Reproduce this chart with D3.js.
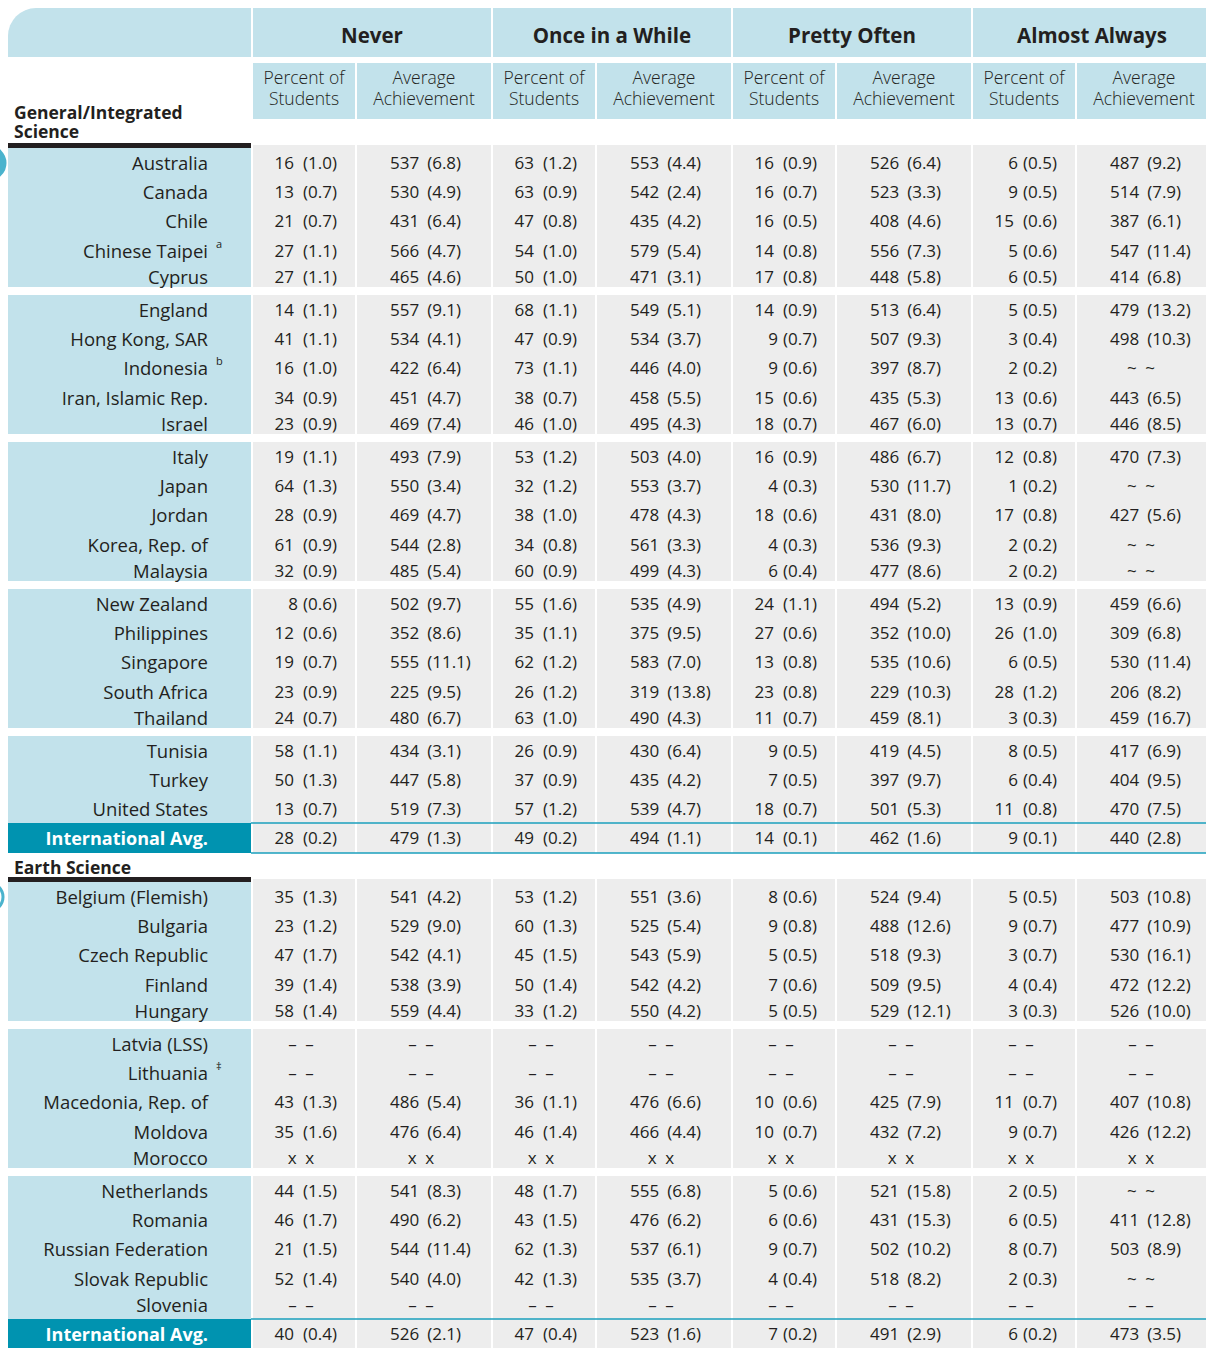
<!DOCTYPE html>
<html>
<head>
<meta charset="utf-8">
<script src="https://cdn.jsdelivr.net/npm/d3@7"></script>
<style>
  body { margin: 0; background: #fff; }
  svg text { font-family: "Open Sans", sans-serif; fill: #231f20; }
</style>
</head>
<body>
<div id="table"></div>
<script>

// column groups and sub headings
const groups = ['Never', 'Once in a While', 'Pretty Often', 'Almost Always'];
const subHeads = [['Percent of', 'Students'], ['Average', 'Achievement']];

// General/Integrated Science
const genCountries = ['Australia', 'Canada', 'Chile', 'Chinese Taipei', 'Cyprus',
    'England', 'Hong Kong, SAR', 'Indonesia', 'Iran, Islamic Rep.', 'Israel',
    'Italy', 'Japan', 'Jordan', 'Korea, Rep. of', 'Malaysia',
    'New Zealand', 'Philippines', 'Singapore', 'South Africa', 'Thailand',
    'Tunisia', 'Turkey', 'United States'];
const genNotes = ['', '', '', 'a', '', '', '', 'b', '', '', '', '', '', '', '', '', '', '', '', '', '', '', ''];
const genBlocks = [5, 5, 5, 5, 3];
const genValues = [
    ['16 (1.0)', '537 (6.8)', '63 (1.2)', '553 (4.4)', '16 (0.9)', '526 (6.4)', '6 (0.5)', '487 (9.2)'],
    ['13 (0.7)', '530 (4.9)', '63 (0.9)', '542 (2.4)', '16 (0.7)', '523 (3.3)', '9 (0.5)', '514 (7.9)'],
    ['21 (0.7)', '431 (6.4)', '47 (0.8)', '435 (4.2)', '16 (0.5)', '408 (4.6)', '15 (0.6)', '387 (6.1)'],
    ['27 (1.1)', '566 (4.7)', '54 (1.0)', '579 (5.4)', '14 (0.8)', '556 (7.3)', '5 (0.6)', '547 (11.4)'],
    ['27 (1.1)', '465 (4.6)', '50 (1.0)', '471 (3.1)', '17 (0.8)', '448 (5.8)', '6 (0.5)', '414 (6.8)'],
    ['14 (1.1)', '557 (9.1)', '68 (1.1)', '549 (5.1)', '14 (0.9)', '513 (6.4)', '5 (0.5)', '479 (13.2)'],
    ['41 (1.1)', '534 (4.1)', '47 (0.9)', '534 (3.7)', '9 (0.7)', '507 (9.3)', '3 (0.4)', '498 (10.3)'],
    ['16 (1.0)', '422 (6.4)', '73 (1.1)', '446 (4.0)', '9 (0.6)', '397 (8.7)', '2 (0.2)', '~ ~'],
    ['34 (0.9)', '451 (4.7)', '38 (0.7)', '458 (5.5)', '15 (0.6)', '435 (5.3)', '13 (0.6)', '443 (6.5)'],
    ['23 (0.9)', '469 (7.4)', '46 (1.0)', '495 (4.3)', '18 (0.7)', '467 (6.0)', '13 (0.7)', '446 (8.5)'],
    ['19 (1.1)', '493 (7.9)', '53 (1.2)', '503 (4.0)', '16 (0.9)', '486 (6.7)', '12 (0.8)', '470 (7.3)'],
    ['64 (1.3)', '550 (3.4)', '32 (1.2)', '553 (3.7)', '4 (0.3)', '530 (11.7)', '1 (0.2)', '~ ~'],
    ['28 (0.9)', '469 (4.7)', '38 (1.0)', '478 (4.3)', '18 (0.6)', '431 (8.0)', '17 (0.8)', '427 (5.6)'],
    ['61 (0.9)', '544 (2.8)', '34 (0.8)', '561 (3.3)', '4 (0.3)', '536 (9.3)', '2 (0.2)', '~ ~'],
    ['32 (0.9)', '485 (5.4)', '60 (0.9)', '499 (4.3)', '6 (0.4)', '477 (8.6)', '2 (0.2)', '~ ~'],
    ['8 (0.6)', '502 (9.7)', '55 (1.6)', '535 (4.9)', '24 (1.1)', '494 (5.2)', '13 (0.9)', '459 (6.6)'],
    ['12 (0.6)', '352 (8.6)', '35 (1.1)', '375 (9.5)', '27 (0.6)', '352 (10.0)', '26 (1.0)', '309 (6.8)'],
    ['19 (0.7)', '555 (11.1)', '62 (1.2)', '583 (7.0)', '13 (0.8)', '535 (10.6)', '6 (0.5)', '530 (11.4)'],
    ['23 (0.9)', '225 (9.5)', '26 (1.2)', '319 (13.8)', '23 (0.8)', '229 (10.3)', '28 (1.2)', '206 (8.2)'],
    ['24 (0.7)', '480 (6.7)', '63 (1.0)', '490 (4.3)', '11 (0.7)', '459 (8.1)', '3 (0.3)', '459 (16.7)'],
    ['58 (1.1)', '434 (3.1)', '26 (0.9)', '430 (6.4)', '9 (0.5)', '419 (4.5)', '8 (0.5)', '417 (6.9)'],
    ['50 (1.3)', '447 (5.8)', '37 (0.9)', '435 (4.2)', '7 (0.5)', '397 (9.7)', '6 (0.4)', '404 (9.5)'],
    ['13 (0.7)', '519 (7.3)', '57 (1.2)', '539 (4.7)', '18 (0.7)', '501 (5.3)', '11 (0.8)', '470 (7.5)']
];
const genAvg = ['28 (0.2)', '479 (1.3)', '49 (0.2)', '494 (1.1)', '14 (0.1)', '462 (1.6)', '9 (0.1)', '440 (2.8)'];

// Earth Science
const earthCountries = ['Belgium (Flemish)', 'Bulgaria', 'Czech Republic', 'Finland', 'Hungary',
    'Latvia (LSS)', 'Lithuania', 'Macedonia, Rep. of', 'Moldova', 'Morocco',
    'Netherlands', 'Romania', 'Russian Federation', 'Slovak Republic', 'Slovenia'];
const earthNotes = ['', '', '', '', '', '', '\u2021', '', '', '', '', '', '', '', ''];
const earthBlocks = [5, 5, 5];
const dd = '\u2013 \u2013';
const earthValues = [
    ['35 (1.3)', '541 (4.2)', '53 (1.2)', '551 (3.6)', '8 (0.6)', '524 (9.4)', '5 (0.5)', '503 (10.8)'],
    ['23 (1.2)', '529 (9.0)', '60 (1.3)', '525 (5.4)', '9 (0.8)', '488 (12.6)', '9 (0.7)', '477 (10.9)'],
    ['47 (1.7)', '542 (4.1)', '45 (1.5)', '543 (5.9)', '5 (0.5)', '518 (9.3)', '3 (0.7)', '530 (16.1)'],
    ['39 (1.4)', '538 (3.9)', '50 (1.4)', '542 (4.2)', '7 (0.6)', '509 (9.5)', '4 (0.4)', '472 (12.2)'],
    ['58 (1.4)', '559 (4.4)', '33 (1.2)', '550 (4.2)', '5 (0.5)', '529 (12.1)', '3 (0.3)', '526 (10.0)'],
    [dd, dd, dd, dd, dd, dd, dd, dd],
    [dd, dd, dd, dd, dd, dd, dd, dd],
    ['43 (1.3)', '486 (5.4)', '36 (1.1)', '476 (6.6)', '10 (0.6)', '425 (7.9)', '11 (0.7)', '407 (10.8)'],
    ['35 (1.6)', '476 (6.4)', '46 (1.4)', '466 (4.4)', '10 (0.7)', '432 (7.2)', '9 (0.7)', '426 (12.2)'],
    ['x x', 'x x', 'x x', 'x x', 'x x', 'x x', 'x x', 'x x'],
    ['44 (1.5)', '541 (8.3)', '48 (1.7)', '555 (6.8)', '5 (0.6)', '521 (15.8)', '2 (0.5)', '~ ~'],
    ['46 (1.7)', '490 (6.2)', '43 (1.5)', '476 (6.2)', '6 (0.6)', '431 (15.3)', '6 (0.5)', '411 (12.8)'],
    ['21 (1.5)', '544 (11.4)', '62 (1.3)', '537 (6.1)', '9 (0.7)', '502 (10.2)', '8 (0.7)', '503 (8.9)'],
    ['52 (1.4)', '540 (4.0)', '42 (1.3)', '535 (3.7)', '4 (0.4)', '518 (8.2)', '2 (0.3)', '~ ~'],
    [dd, dd, dd, dd, dd, dd, dd, dd]
];
const earthAvg = ['40 (0.4)', '526 (2.1)', '47 (0.4)', '523 (1.6)', '7 (0.2)', '491 (2.9)', '6 (0.2)', '473 (3.5)'];

const TableModule = (() => {

    const width = 1206;
    const height = 1348;

    const blue = '#c2e2eb';
    const grey = '#ededed';
    const teal = '#0093b0';
    const ink = '#231f20';

    const leftX = 8;
    const leftW = 243;
    const labelX = 208;
    const dy = '0.38em';

    // 4 groups of 240px, each split into a percent and an average column
    const gx = d3.scaleBand().domain(groups).range([251, 1211]);
    const columns = [];
    groups.forEach(g => {
        columns.push({group: g, kind: 'pct', x: gx(g) + 2, w: 102});
        columns.push({group: g, kind: 'avg', x: gx(g) + 106, w: 134});
    });

    const rowOffsets = [15, 44, 73, 102.5, 129];
    const blockStep = 147;
    const blockH = 139;

    const init = () => {
        const svg = d3.select('#table')
            .append('svg')
            .attr('width', width)
            .attr('height', height);

        drawHeader(svg);

        drawSection(svg, {
            title: ['General/Integrated', 'Science'],
            titleY: 112,
            barY: 143,
            top: 148,
            countries: genCountries,
            notes: genNotes,
            blocks: genBlocks,
            values: genValues,
            avg: genAvg,
            circleFill: true
        });

        drawSection(svg, {
            title: ['Earth Science'],
            titleY: 867,
            barY: 877,
            top: 882,
            countries: earthCountries,
            notes: earthNotes,
            blocks: earthBlocks,
            values: earthValues,
            avg: earthAvg,
            circleFill: false
        });
    };

    const drawHeader = svg => {
        const r = 28;
        // rounded top-left cell
        svg.append('path')
            .attr('d', `M${leftX},57 V${8 + r} A${r},${r} 0 0 1 ${leftX + r},8 H${leftX + leftW} V57 Z`)
            .attr('fill', blue);

        const gh = svg.append('g');
        gh.selectAll('rect')
            .data(groups)
            .enter()
            .append('rect')
            .attr('x', d => gx(d) + 2)
            .attr('y', 8)
            .attr('width', gx.bandwidth() - 2)
            .attr('height', 49)
            .attr('fill', blue);
        gh.selectAll('text')
            .data(groups)
            .enter()
            .append('text')
            .attr('x', d => gx(d) + 1 + gx.bandwidth() / 2)
            .attr('y', 35)
            .attr('dy', dy)
            .attr('text-anchor', 'middle')
            .style('font-size', '20.5px')
            .style('font-weight', 700)
            .text(d => d);

        const sh = svg.append('g');
        sh.selectAll('rect')
            .data(columns)
            .enter()
            .append('rect')
            .attr('x', d => d.x)
            .attr('y', 63)
            .attr('width', d => d.w)
            .attr('height', 56)
            .attr('fill', blue);
        // two-line headings as one text with tspans
        columns.forEach(c => {
            const lines = c.kind === 'pct' ? subHeads[0] : subHeads[1];
            const t = sh.append('text')
                .attr('text-anchor', 'middle')
                .style('font-size', '17.5px')
                .style('font-weight', 300);
            lines.forEach((l, i) => {
                t.append('tspan')
                    .attr('x', c.x + c.w / 2)
                    .attr('y', 77 + i * 21)
                    .attr('dy', dy)
                    .text(l);
            });
        });
    };

    // writes one value cell, "16 (1.0)" style, or the centred symbols
    const writeCell = (g, c, cy, str) => {
        const txt = g.append('text')
            .attr('y', cy)
            .attr('dy', dy)
            .style('font-size', '17px');
        if (str.indexOf('(') < 0) {
            txt.attr('x', c.x + c.w / 2 - 3)
                .attr('text-anchor', 'middle')
                .text(str.replace(' ', '\u2002'));
            return;
        }
        const parts = str.split(' ');
        if (c.kind === 'pct') {
            txt.attr('x', c.x + 84).attr('text-anchor', 'end');
            txt.append('tspan').text(parts[0]);
            txt.append('tspan').attr('dx', parts[0].length > 1 ? 9 : 5).text(parts[1]);
        } else {
            txt.attr('x', c.x + 33).attr('text-anchor', 'start');
            txt.append('tspan').text(parts[0]);
            txt.append('tspan').attr('dx', 8).text(parts[1]);
        }
    };

    const drawSection = (svg, s) => {
        const g = svg.append('g');

        // section title and black rule
        const title = g.append('text')
            .style('font-size', '17.5px')
            .style('font-weight', 700);
        s.title.forEach((t, i) => {
            title.append('tspan')
                .attr('x', 14)
                .attr('y', s.titleY + i * 19)
                .attr('dy', dy)
                .text(t);
        });
        g.append('rect')
            .attr('x', leftX).attr('y', s.barY)
            .attr('width', leftW).attr('height', s.top - s.barY)
            .attr('fill', ink);

        // row positions, block by block
        const rows = [];
        let idx = 0;
        let blockEnd = 0;
        s.blocks.forEach((n, b) => {
            const top = s.top + b * blockStep;
            const isLast = b === s.blocks.length - 1;
            for (let i = 0; i < n; i++) {
                rows.push({y: top + rowOffsets[i], i: idx});
                idx++;
            }
            const lastY = top + rowOffsets[n - 1];
            blockEnd = isLast ? lastY + 14 : top + blockH;
            const gTop = b === 0 ? s.barY + 2 : top;

            g.append('rect')
                .attr('x', leftX).attr('y', top)
                .attr('width', leftW).attr('height', blockEnd - top)
                .attr('fill', blue);
            g.append('g')
                .selectAll('rect')
                .data(columns)
                .enter()
                .append('rect')
                .attr('x', d => d.x)
                .attr('y', gTop)
                .attr('width', d => d.w)
                .attr('height', blockEnd - gTop)
                .attr('fill', grey);
        });

        // country labels with footnote marks
        rows.forEach(r => {
            g.append('text')
                .attr('x', labelX)
                .attr('y', r.y)
                .attr('dy', dy)
                .attr('text-anchor', 'end')
                .style('font-size', '18.5px')
                .text(s.countries[r.i]);
            if (s.notes[r.i]) {
                g.append('text')
                    .attr('x', 216)
                    .attr('y', r.y - 7)
                    .attr('dy', dy)
                    .style('font-size', '11px')
                    .text(s.notes[r.i]);
            }
            s.values[r.i].forEach((v, j) => writeCell(g, columns[j], r.y, v));
        });

        // international average row
        const aTop = blockEnd;
        const aH = 30;
        const aY = aTop + 15;
        g.append('rect')
            .attr('x', leftX).attr('y', aTop)
            .attr('width', leftW).attr('height', aH)
            .attr('fill', teal);
        g.append('g')
            .selectAll('rect')
            .data(columns)
            .enter()
            .append('rect')
            .attr('x', d => d.x)
            .attr('y', aTop)
            .attr('width', d => d.w)
            .attr('height', aH)
            .attr('fill', grey);
        g.append('text')
            .attr('x', labelX)
            .attr('y', aY)
            .attr('dy', dy)
            .attr('text-anchor', 'end')
            .style('font-size', '18px')
            .style('font-weight', 700)
            .style('fill', '#fff')
            .text('International Avg.');
        s.avg.forEach((v, j) => writeCell(g, columns[j], aY, v));
        [aTop, aTop + aH].forEach(ly => {
            g.append('line')
                .attr('x1', leftX + leftW).attr('x2', width)
                .attr('y1', ly).attr('y2', ly)
                .style('stroke', '#1a9fbd')
                .style('stroke-width', 1.5);
        });

        // tab marker sticking in from the page edge
        g.append('circle')
            .attr('cx', -11)
            .attr('cy', s.top + 15)
            .attr('r', s.circleFill ? 16 : 14)
            .attr('fill', s.circleFill ? '#4ab3cd' : '#fff')
            .style('stroke', '#4ab3cd')
            .style('stroke-width', 3);
    };

    return {
        init
    };

})();

TableModule.init();
</script>
</body>
</html>
